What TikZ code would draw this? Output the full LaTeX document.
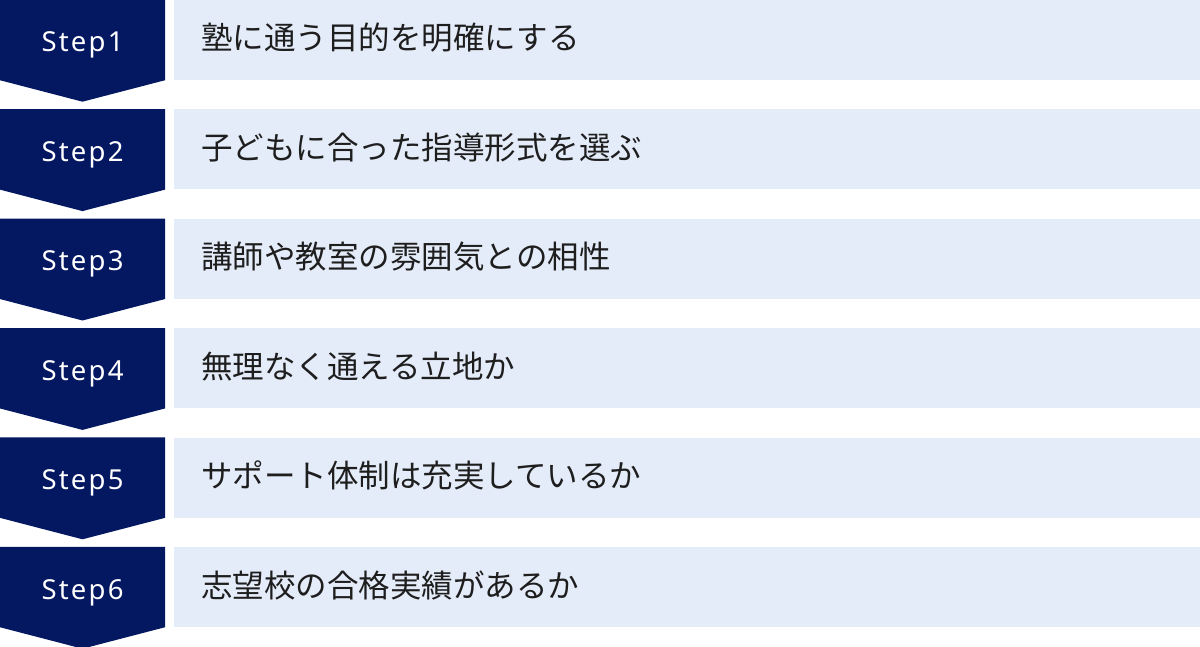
\documentclass[tikz,border=0pt]{standalone}
\usepackage{fontspec}
\setmainfont{Noto Sans CJK JP}
\newfontfamily\stepfont[LetterSpace=8]{Noto Sans}
\usepackage{tikz}
\usetikzlibrary{positioning,calc,backgrounds}
\definecolor{stepnavy}{RGB}{4,24,98}
\definecolor{rowblue}{RGB}{229,236,249}
\definecolor{rowtext}{RGB}{30,30,30}

\begin{document}
\begin{tikzpicture}[x=1pt,y=1pt,node distance=29pt]
\tikzstyle{steptag}=[rectangle, minimum width=165pt, minimum height=80pt,
inner sep=0pt, text height=24pt, text depth=0pt, text=white,
font=\stepfont\fontsize{27.5}{30}\selectfont]
\tikzstyle{rowbox}=[rectangle, fill=rowblue, minimum height=80pt,
text width=972pt, inner xsep=27pt, inner ysep=0pt, align=left,
text height=24pt, text depth=4pt, text=rowtext,
font=\fontsize{31.5}{36}\selectfont]

\useasboundingbox (0,0) rectangle (1200,-647);

% step tags
\node[steptag] (S1) at (82.5,-40) {Step1};
\node[steptag, below=of S1] (S2) {Step2};
\node[steptag, below=of S2] (S3) {Step3};
\node[steptag, below=of S3] (S4) {Step4};
\node[steptag, below=of S4] (S5) {Step5};
\node[steptag, below=of S5] (S6) {Step6};

% row texts
\node[rowbox, right=9pt of S1] (T1) {塾に通う目的を明確にする};
\node[rowbox, right=9pt of S2] (T2) {子どもに合った指導形式を選ぶ};
\node[rowbox, right=9pt of S3] (T3) {講師や教室の雰囲気との相性};
\node[rowbox, right=9pt of S4] (T4) {無理なく通える立地か};
\node[rowbox, right=9pt of S5] (T5) {サポート体制は充実しているか};
\node[rowbox, right=9pt of S6] (T6) {志望校の合格実績があるか};

%arrow-shaped tags behind the labels
\begin{scope}[on background layer]
\fill[stepnavy] (S1.north west) -- (S1.north east) -- (S1.south east)
  -- ([yshift=-21.5pt]S1.south) -- (S1.south west) -- cycle;
\fill[stepnavy] (S2.north west) -- (S2.north east) -- (S2.south east)
  -- ([yshift=-21.5pt]S2.south) -- (S2.south west) -- cycle;
\fill[stepnavy] (S3.north west) -- (S3.north east) -- (S3.south east)
  -- ([yshift=-21.5pt]S3.south) -- (S3.south west) -- cycle;
\fill[stepnavy] (S4.north west) -- (S4.north east) -- (S4.south east)
  -- ([yshift=-21.5pt]S4.south) -- (S4.south west) -- cycle;
\fill[stepnavy] (S5.north west) -- (S5.north east) -- (S5.south east)
  -- ([yshift=-21.5pt]S5.south) -- (S5.south west) -- cycle;
\fill[stepnavy] (S6.north west) -- (S6.north east) -- (S6.south east)
  -- ([yshift=-21.5pt]S6.south) -- (S6.south west) -- cycle;
\end{scope}

\end{tikzpicture}
\end{document}
